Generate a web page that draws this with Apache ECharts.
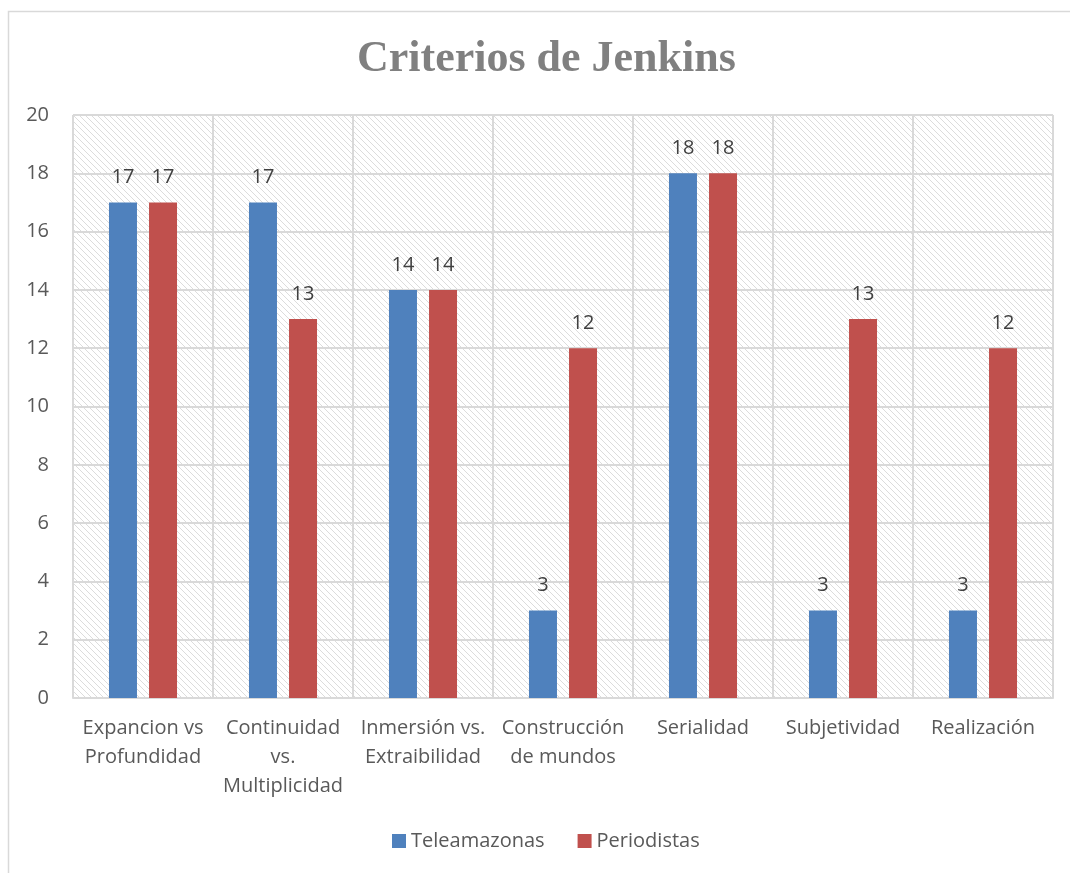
<!DOCTYPE html>
<html>
<head>
<meta charset="utf-8">
<script src="https://cdn.jsdelivr.net/npm/echarts@6/dist/echarts.min.js"></script>
<style>html,body{margin:0;padding:0;background:#fff;}#c{width:1070px;height:873px;}</style>
</head>
<body>
<div id="c"></div>
<script>
var categories = ['Expancion vs\nProfundidad', 'Continuidad\nvs.\nMultiplicidad', 'Inmersión vs.\nExtraibilidad', 'Construcción\nde mundos', 'Serialidad', 'Subjetividad', 'Realización'];
var teleamazonas = [17, 17, 14, 3, 18, 3, 3];
var periodistas = [17, 13, 14, 12, 18, 13, 12];
var seriesNames = ['Teleamazonas', 'Periodistas'];

function hatch() {
  var s = 6;
  var cv = document.createElement('canvas');
  cv.width = s; cv.height = s;
  var ctx = cv.getContext('2d');
  ctx.fillStyle = '#ffffff';
  ctx.fillRect(0, 0, s, s);
  ctx.strokeStyle = '#dcdcdc';
  ctx.lineWidth = 1;
  ctx.beginPath();
  ctx.moveTo(-1, -1); ctx.lineTo(s + 1, s + 1);
  ctx.moveTo(-1, s - 1); ctx.lineTo(1, s + 1);
  ctx.moveTo(s - 1, -1); ctx.lineTo(s + 1, 1);
  ctx.stroke();
  return cv;
}

var chart = echarts.init(document.getElementById('c'));
var font = '"Open Sans", sans-serif';
chart.setOption({
  animation: false,
  backgroundColor: '#ffffff',
  title: {
    text: 'Criterios de Jenkins',
    left: 352,
    top: 33,
    textStyle: { fontFamily: '"Liberation Serif", serif', fontWeight: 'bold', fontSize: 44, color: '#808080' }
  },
  graphic: [{
    type: 'rect', shape: { x: 8.5, y: 11.5, width: 1100, height: 900 },
    style: { fill: 'none', stroke: '#d9d9d9', lineWidth: 1.5 }, silent: true, z: -1
  }],
  legend: {
    data: seriesNames,
    bottom: 17,
    left: 387,
    itemWidth: 14, itemHeight: 14, itemGap: 33,
    icon: 'rect',
    textStyle: { fontFamily: font, fontSize: 20, color: '#595959' }
  },
  grid: {
    left: 73, right: 17, top: 115, bottom: 175,
    show: true,
    backgroundColor: { image: hatch(), repeat: 'repeat' },
    borderWidth: 0
  },
  xAxis: {
    type: 'category',
    data: categories,
    axisTick: { show: false },
    axisLine: { lineStyle: { color: '#d9d9d9', width: 2 } },
    splitLine: { show: true, lineStyle: { color: '#d9d9d9', width: 2 } },
    axisLabel: { fontFamily: font, fontSize: 20, color: '#595959', margin: 16, lineHeight: 29, interval: 0 }
  },
  yAxis: {
    type: 'value', min: 0, max: 20, interval: 2,
    axisLine: { show: false }, axisTick: { show: false },
    splitLine: { lineStyle: { color: '#d9d9d9', width: 2 } },
    axisLabel: { fontFamily: font, fontSize: 20, color: '#595959', margin: 24 }
  },
  series: [{
    name: seriesNames[0], type: 'bar', data: teleamazonas, barWidth: 28, barGap: '43%',
    itemStyle: { color: '#4f81bd' },
    label: { show: true, position: 'top', distance: 15, fontFamily: font, fontSize: 20, color: '#404040' }
  }, {
    name: seriesNames[1], type: 'bar', data: periodistas, barWidth: 28,
    itemStyle: { color: '#c0504d' },
    label: { show: true, position: 'top', distance: 15, fontFamily: font, fontSize: 20, color: '#404040' }
  }]
});
</script>
</body>
</html>
